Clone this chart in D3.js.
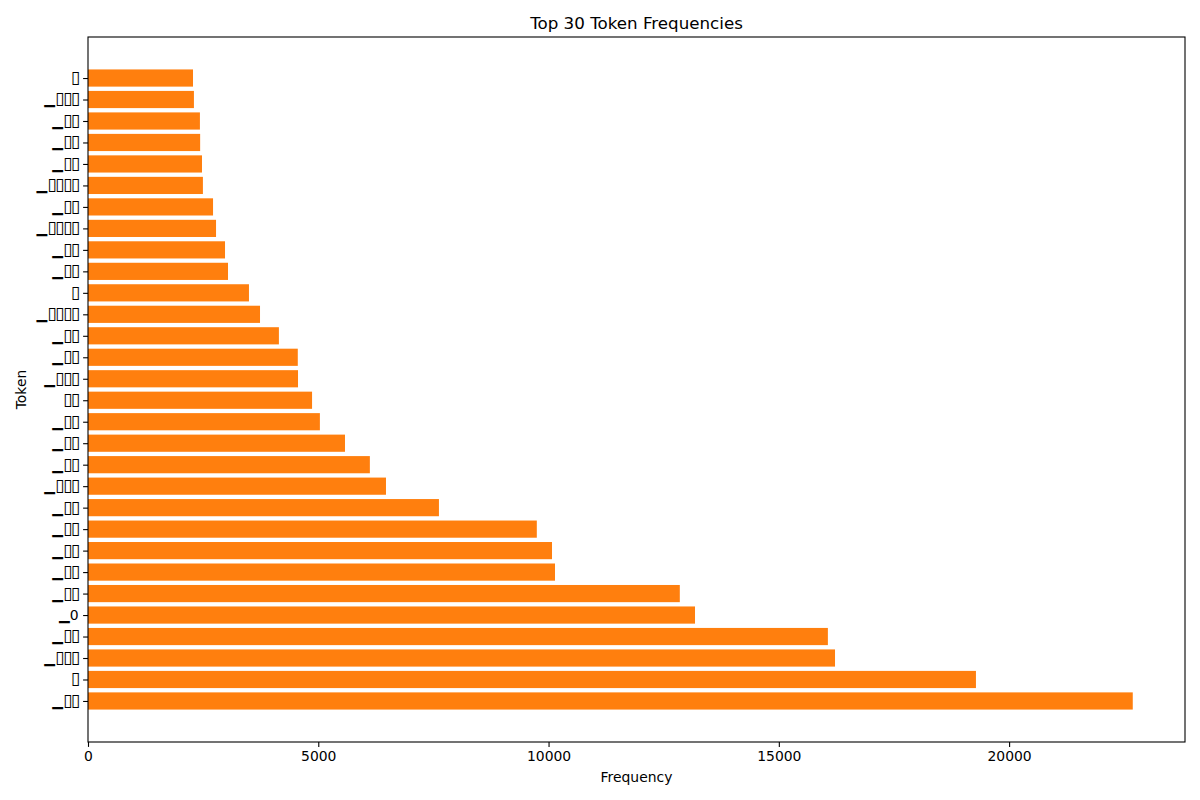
<!DOCTYPE html>
<html>
<head>
<meta charset="utf-8">
<script src="https://cdnjs.cloudflare.com/ajax/libs/d3/7.8.5/d3.min.js"></script>
<style>
  body { margin: 0; background: #fff; }
  svg { font-family: "DejaVu Sans", sans-serif; }
</style>
</head>
<body>
<svg id="chart" width="1200" height="800"></svg>
<script>
// Top 30 tokens, bottom bar first (as drawn by barh).
// The source labels rendered as missing-glyph boxes, kept here as ▯.
const tokens = [
    '▁▯▯', '▯', '▁▯▯▯', '▁▯▯', '▁0', '▁▯▯', '▁▯▯', '▁▯▯', '▁▯▯', '▁▯▯',
    '▁▯▯▯', '▁▯▯', '▁▯▯', '▁▯▯', '▯▯', '▁▯▯▯', '▁▯▯', '▁▯▯', '▁▯▯▯▯', '▯',
    '▁▯▯', '▁▯▯', '▁▯▯▯▯', '▁▯▯', '▁▯▯▯▯', '▁▯▯', '▁▯▯', '▁▯▯', '▁▯▯▯', '▯'
];
const frequencies = [
    22685, 19280, 16220, 16065, 13180, 12850, 10140, 10075, 9745, 7620,
    6470, 6120, 5580, 5035, 4865, 4560, 4555, 4145, 3735, 3495,
    3040, 2975, 2780, 2715, 2495, 2475, 2435, 2430, 2300, 2280
];
const xTicks = [0, 5000, 10000, 15000, 20000];

const svg = d3.select('#chart');
const margin = { top: 37, right: 15, bottom: 58, left: 88 };
const width = 1200 - margin.left - margin.right;
const height = 800 - margin.top - margin.bottom;

const g = svg.append('g')
    .attr('transform', `translate(${margin.left}, ${margin.top})`);

const data = tokens.map((t, i) => ({ i, token: t, value: frequencies[i] }));

const x = d3.scaleLinear()
    .domain([0, d3.max(frequencies) * 1.05])
    .range([0, width]);

// index scale with padding around the first and last bars
const pad = 1.91;
const y = d3.scaleLinear()
    .domain([-pad, tokens.length - 1 + pad])
    .range([height, 0]);
const barH = (y(0) - y(0.8));

g.selectAll('rect.bar')
    .data(data)
    .enter()
    .append('rect')
    .attr('class', 'bar')
    .attr('x', x(0))
    .attr('y', d => y(d.i) - barH / 2)
    .attr('width', d => x(d.value) - x(0))
    .attr('height', barH)
    .style('fill', '#ff7f0e');

// x axis
const xAxis = g.append('g')
    .attr('transform', `translate(0, ${height})`)
    .call(d3.axisBottom(x).tickValues(xTicks).tickFormat(d3.format('d')).tickSize(4.9).tickPadding(4.5));

// y axis
const yAxis = g.append('g')
    .call(d3.axisLeft(y).tickValues(d3.range(tokens.length)).tickFormat(i => tokens[i]).tickSize(4.9).tickPadding(4.5));

[xAxis, yAxis].forEach(ax => {
    ax.select('.domain').remove();
    ax.selectAll('line').style('stroke', '#000').style('stroke-width', 1.1);
    ax.selectAll('text')
        .style('fill', '#000')
        .style('font-size', '13.9px')
        .style('font-family', '"DejaVu Sans", sans-serif');
});

// split labels so the box glyphs can be drawn a little taller
yAxis.selectAll('.tick text').each(function(i) {
    const t = d3.select(this);
    const s = tokens[i];
    t.text(null);
    Array.from(s).forEach(ch => {
        const span = t.append('tspan').text(ch);
        if (ch === '▯') span.style('font-size', '17px').attr('letter-spacing', '-1.5');
    });
});

// frame
g.append('rect')
    .attr('width', width)
    .attr('height', height)
    .style('fill', 'none')
    .style('stroke', '#000')
    .style('stroke-width', 1.1);

// title
svg.append('text')
    .attr('x', margin.left + width / 2)
    .attr('y', 29)
    .attr('text-anchor', 'middle')
    .style('font-size', '16.7px')
    .style('fill', '#000')
    .text('Top 30 Token Frequencies');

// axis labels
svg.append('text')
    .attr('x', margin.left + width / 2)
    .attr('y', 782)
    .attr('text-anchor', 'middle')
    .style('font-size', '13.9px')
    .style('fill', '#000')
    .text('Frequency');

svg.append('text')
    .attr('transform', `translate(26, ${margin.top + height / 2}) rotate(-90)`)
    .attr('text-anchor', 'middle')
    .style('font-size', '13.9px')
    .style('fill', '#000')
    .text('Token');
</script>
</body>
</html>
